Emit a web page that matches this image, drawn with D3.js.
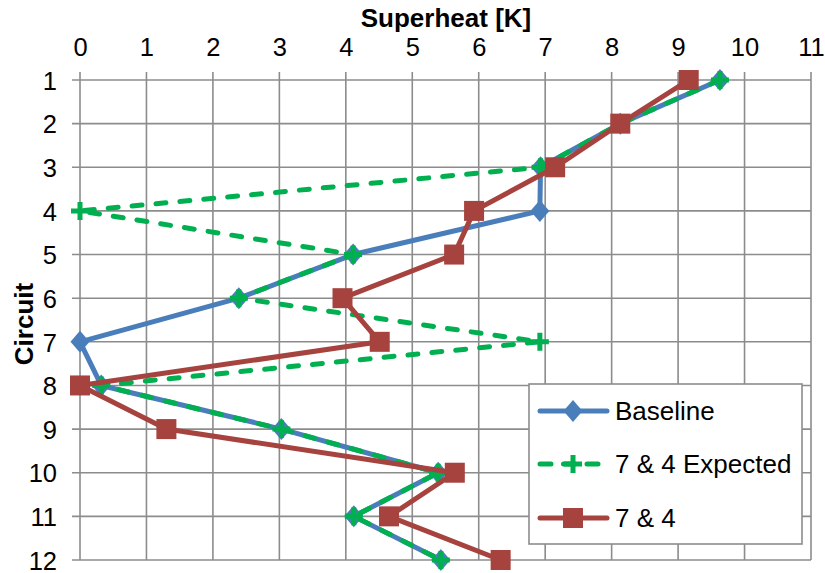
<!DOCTYPE html>
<html>
<head>
<meta charset="utf-8">
<script src="https://cdn.jsdelivr.net/npm/d3@7"></script>
<style>
  html, body { margin: 0; padding: 0; background: #fff; }
  svg { display: block; font-family: "Liberation Sans", Arial, Helvetica, sans-serif; }
</style>
</head>
<body>
<svg id="chart" width="825" height="573"></svg>
<script>
// Circuit numbers (rows, top to bottom)
const circuits = [1, 2, 3, 4, 5, 6, 7, 8, 9, 10, 11, 12];
// Superheat per circuit [K]
const baseline = [9.63, 8.13, 6.93, 6.92, 4.11, 2.39, 0.0, 0.32, 3.03, 5.39, 4.12, 5.43];
const expected74 = [9.63, 8.13, 6.93, 0.0, 4.11, 2.39, 6.92, 0.32, 3.03, 5.39, 4.12, 5.43];
const measured74 = [9.16, 8.13, 7.15, 5.93, 5.63, 3.95, 4.51, 0.0, 1.30, 5.64, 4.65, 6.33];
const xTicks = d3.range(0, 12);
const seriesNames = ["Baseline", "7 & 4 Expected", "7 & 4"];

const svg = d3.select("#chart");
const plotL = 80, plotR = 811, plotT = 80, plotB = 560;

const x = d3.scaleLinear().domain([0, 11]).range([plotL, plotR]);
const y = d3.scaleLinear().domain([1, 12]).range([plotT, plotB]);

const gridColor = "#8c8c8c";
const fontSize = 25.5;

// grid
const grid = svg.append("g");
grid.selectAll("line.v").data(xTicks).join("line")
  .attr("x1", d => x(d)).attr("x2", d => x(d))
  .attr("y1", plotT - 8).attr("y2", plotB)
  .attr("stroke", gridColor).attr("stroke-width", 1.6);
grid.selectAll("line.h").data(circuits).join("line")
  .attr("x1", plotL - 8).attr("x2", plotR)
  .attr("y1", d => y(d)).attr("y2", d => y(d))
  .attr("stroke", gridColor).attr("stroke-width", 1.6);

// axes (top x, left y)
const xAxis = d3.axisTop(x).tickValues(xTicks).tickSize(0).tickPadding(0).tickFormat(d3.format("d"));
const gx = svg.append("g").attr("transform", `translate(0,${plotT - 24})`).call(xAxis);
gx.select(".domain").remove();
gx.selectAll("text").attr("font-size", fontSize).attr("fill", "#000");

const yAxis = d3.axisLeft(y).tickValues(circuits).tickSize(0).tickPadding(0).tickFormat(d3.format("d"));
const gy = svg.append("g").attr("transform", `translate(${plotL - 23},0)`).call(yAxis);
gy.select(".domain").remove();
gy.selectAll("text").attr("font-size", fontSize).attr("fill", "#000").attr("dy", "0.36em");

// axis titles
svg.append("text").attr("x", 446).attr("y", 27)
  .attr("text-anchor", "middle").attr("font-size", 26).attr("font-weight", "bold")
  .text("Superheat [K]");
svg.append("text").attr("transform", "translate(33,324) rotate(-90)")
  .attr("text-anchor", "middle").attr("font-size", 26).attr("font-weight", "bold")
  .text("Circuit");

const line = d3.line().x(d => x(d.v)).y(d => y(d.c));
const toPts = arr => arr.map((v, i) => ({ v, c: circuits[i] }));

const blue = "#4A7EBB", green = "#00B050", red = "#A6433F";
const lw = 5;
const diamondPath = "M0,-11L9.5,0L0,11L-9.5,0Z";
const plusPath = "M-9,0H9M0,-9V9";

// Baseline
svg.append("path").datum(toPts(baseline)).attr("d", line)
  .attr("fill", "none").attr("stroke", blue).attr("stroke-width", lw).attr("stroke-linejoin", "round");
svg.append("g").selectAll("path").data(toPts(baseline)).join("path")
  .attr("d", diamondPath)
  .attr("transform", d => `translate(${x(d.v)},${y(d.c)})`)
  .attr("fill", blue);

// 7 & 4 Expected
svg.append("path").datum(toPts(expected74)).attr("d", line)
  .attr("fill", "none").attr("stroke", green).attr("stroke-width", lw)
  .attr("stroke-dasharray", "10,14").attr("stroke-linecap", "round").attr("stroke-linejoin", "round");
svg.append("g").selectAll("path").data(toPts(expected74)).join("path")
  .attr("d", plusPath)
  .attr("transform", d => `translate(${x(d.v)},${y(d.c)})`)
  .attr("stroke", green).attr("stroke-width", 5).attr("fill", "none");

// 7 & 4 measured
svg.append("path").datum(toPts(measured74)).attr("d", line)
  .attr("fill", "none").attr("stroke", red).attr("stroke-width", lw).attr("stroke-linejoin", "round");
svg.append("g").selectAll("rect").data(toPts(measured74)).join("rect")
  .attr("x", d => x(d.v) - 10).attr("y", d => y(d.c) - 10)
  .attr("width", 20).attr("height", 20).attr("fill", red);

// legend
const lg = svg.append("g");
lg.append("rect").attr("x", 529).attr("y", 384).attr("width", 273).attr("height", 160)
  .attr("fill", "#fff").attr("stroke", "#8c8c8c").attr("stroke-width", 1.6);
const rows = [411, 464, 518];
const lx1 = 540, lx2 = 607, lmid = 573;
// Baseline entry
lg.append("line").attr("x1", lx1).attr("x2", lx2).attr("y1", rows[0]).attr("y2", rows[0])
  .attr("stroke", blue).attr("stroke-width", lw).attr("stroke-linecap", "round");
lg.append("path").attr("d", diamondPath)
  .attr("transform", `translate(${lmid},${rows[0]})`).attr("fill", blue);
// Expected entry
lg.append("line").attr("x1", lx1).attr("x2", lx2).attr("y1", rows[1]).attr("y2", rows[1])
  .attr("stroke", green).attr("stroke-width", lw).attr("stroke-linecap", "round")
  .attr("stroke-dasharray", "11,12.5");
lg.append("path").attr("d", plusPath)
  .attr("transform", `translate(${lmid},${rows[1]})`)
  .attr("stroke", green).attr("stroke-width", 5);
// Measured entry
lg.append("line").attr("x1", lx1).attr("x2", lx2).attr("y1", rows[2]).attr("y2", rows[2])
  .attr("stroke", red).attr("stroke-width", lw).attr("stroke-linecap", "round");
lg.append("rect").attr("x", lmid - 10).attr("y", rows[2] - 10).attr("width", 20).attr("height", 20).attr("fill", red);

lg.selectAll("text.lbl").data(seriesNames).join("text")
  .attr("x", 615).attr("y", (d, i) => rows[i]).attr("dy", "0.36em")
  .attr("font-size", 26).attr("fill", "#000").text(d => d);
</script>
</body>
</html>
